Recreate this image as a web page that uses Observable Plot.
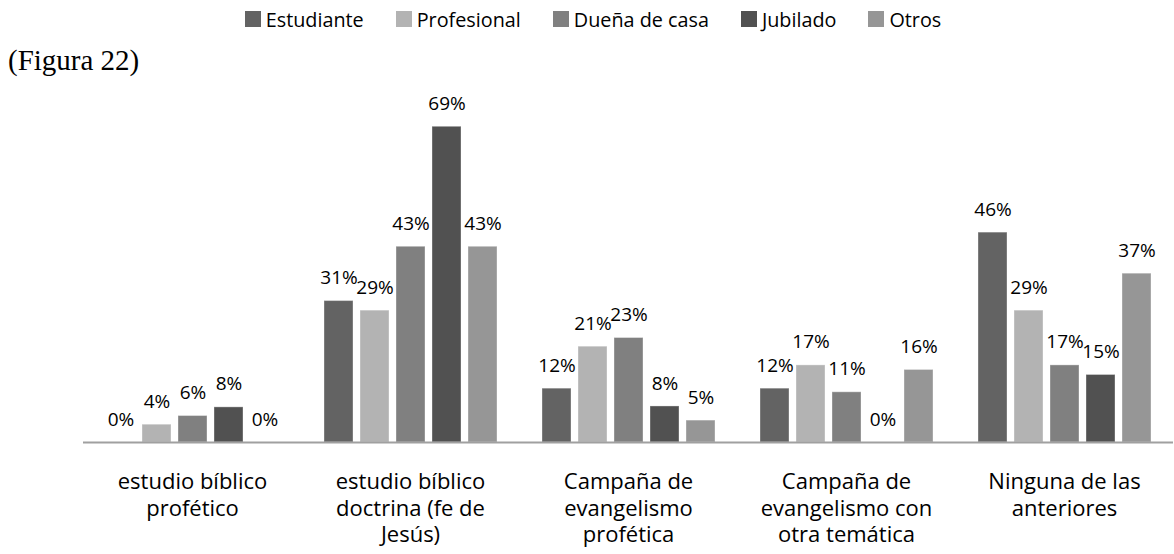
<!DOCTYPE html>
<html><head><meta charset="utf-8">
<script src="https://cdn.jsdelivr.net/npm/d3@7"></script>
<script src="https://cdn.jsdelivr.net/npm/@observablehq/plot@0.6"></script>
<style>
body{margin:0;background:#fff;font-family:"Open Sans",sans-serif;}
#wrap{position:relative;width:1174px;height:554px;overflow:hidden;}
#legend{height:38px;display:flex;justify-content:center;align-items:center;padding-left:12px;font-size:19.8px;color:#000;}
.item{display:flex;align-items:center;margin:0 16px;white-space:nowrap;}
.sw{width:16px;height:16px;margin-right:5px;}
#fig{position:absolute;left:8px;top:45px;font-family:"Liberation Serif",serif;font-size:29px;line-height:30px;color:#000;}
</style></head><body>
<div id="wrap"><div id="legend"></div><div id="fig">(Figura 22)</div><div id="chart"></div></div>
<script>
const categories = ["estudio bíblico profético","estudio bíblico doctrina (fe de Jesús)","Campaña de evangelismo profética","Campaña de evangelismo con otra temática","Ninguna de las anteriores"];
const tickLabels = ["estudio bíblico\nprofético","estudio bíblico\ndoctrina (fe de\nJesús)","Campaña de\nevangelismo\nprofética","Campaña de\nevangelismo con\notra temática","Ninguna de las\nanteriores"];
const series = ["Estudiante","Profesional","Dueña de casa","Jubilado","Otros"];
const colors = ["#636363","#b3b3b3","#808080","#515151","#969696"];
const estudiante  = [0, 31.0, 11.8, 11.8, 46.0];
const profesional = [3.9, 28.9, 21.0, 16.9, 28.9];
const duena       = [5.8, 42.9, 22.9, 11.0, 16.9];
const jubilado    = [7.7, 69.2, 7.9, 0, 14.8];
const otros       = [0, 42.9, 4.8, 15.9, 37.0];
const values = [estudiante, profesional, duena, jubilado, otros];

const data = [];
categories.forEach((c, i) => series.forEach((s, j) => data.push({category: c, series: s, value: values[j][i]})));

const legend = d3.select("#legend");
series.forEach((s, j) => {
  const it = legend.append("div").attr("class", "item");
  it.append("div").attr("class", "sw").style("background", colors[j]);
  it.append("span").text(s);
});

const chart = Plot.plot({
  width: 1174, height: 516,
  marginLeft: 82, marginRight: 0, marginTop: 39, marginBottom: 112,
  style: {fontFamily: '"Open Sans", sans-serif', color: "#000", background: "transparent"},
  fx: {domain: categories, padding: 0, label: null},
  x: {domain: series, paddingInner: 0.205, paddingOuter: 0.594, axis: null},
  y: {domain: [0, 80], axis: null},
  color: {domain: series, range: colors},
  marks: [
    Plot.barY(data, {fx: "category", x: "series", y: "value", fill: "series", stroke: "white", strokeOpacity: 0.35, strokeWidth: 1}),
    Plot.ruleY([0], {stroke: "#a0a0a0", strokeWidth: 2}),
    Plot.text(data, {fx: "category", x: "series", y: "value", text: d => Math.round(d.value) + "%", dy: -23, lineAnchor: "middle", fontSize: 19, fill: "#000"}),
    Plot.axisFx({anchor: "bottom", tickSize: 0, tickPadding: 28, fontSize: 22, lineHeight: 1.2, tickFormat: c => tickLabels[categories.indexOf(c)], label: null, fill: "#000"})
  ]
});
document.getElementById("chart").appendChild(chart);
</script>
</body></html>
